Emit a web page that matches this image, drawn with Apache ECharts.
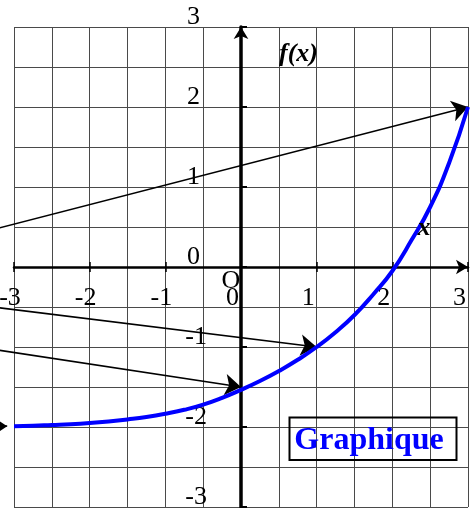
<!DOCTYPE html>
<html>
<head>
<meta charset="utf-8">
<script src="https://cdn.jsdelivr.net/npm/echarts/dist/echarts.min.js"></script>
<style>
html,body{margin:0;padding:0;background:#fff;}
#main{width:472px;height:508px;}
</style>
</head>
<body>
<div id="main"></div>
<script>
// courbe de f
const xVals = [-3, -2.75, -2.5, -2.25, -2, -1.75, -1.5, -1.25, -1, -0.75, -0.5, -0.25, 0,
               0.25, 0.5, 0.75, 1, 1.25, 1.5, 1.75, 2, 2.25, 2.5, 2.75, 3];
const fVals = [-1.99, -1.985, -1.975, -1.965, -1.95, -1.93, -1.905, -1.875, -1.835, -1.785, -1.72, -1.635, -1.535,
               -1.425, -1.3, -1.16, -1.0, -0.815, -0.6, -0.34, -0.05, 0.33, 0.75, 1.3, 2.0];
// fleches : depart (hors cadre) -> arrivee
const arrowFrom = [[-3.6, 0.39], [-3.6, -0.463], [-3.6, -0.982]];
const arrowTo = [[3, 2], [1, -1], [0, -1.5]];
// petite fleche au bord gauche
const smallFrom = [-3.6, -1.99];
const smallTo = [-3.09, -1.99];
const axisMin = -3, axisMax = 3;

const font = 'Liberation Serif';
const gridColor = '#4a4a4a';

// taille du cadre
const W = 472, H = 508;
const gl = 14, gr = 4, gt = 27, gb = 1;
// decalage pour amener les axes sur le zero
const xOff = -(H - gt - gb) / 2;
const yOff = -(W - gl - gr) / 2;

var myChart = echarts.init(document.getElementById('main'));

function labelFmt(v){
    if (v < 0) return '{n|' + v + '}';
    return '{p|' + v + '}';
}

var option = {
    animation: false,
    grid: { left: gl, right: gr, top: gt, bottom: gb, outerBoundsMode: 'none' },
    xAxis: [
        {
            type: 'value', position: 'bottom', offset: xOff, min: axisMin, max: axisMax, interval: 1,
            axisLine: {
                onZero: false, symbol: ['none', 'arrow'], symbolSize: [11, 12],
                lineStyle: { color: '#000', width: 2.5 }
            },
            axisTick: { show: true, length: 5, lineStyle: { color: '#000', width: 1.5 } },
            axisLabel: {
                show: true, margin: 18, showMinLabel: true, showMaxLabel: true,
                fontFamily: font, fontSize: 26, color: '#000',
                formatter: labelFmt,
                rich: {
                    n: { fontFamily: font, fontSize: 26, color: '#000', padding: [0, 8, 0, 0] },
                    p: { fontFamily: font, fontSize: 26, color: '#000', padding: [0, 17, 0, 0] }
                }
            },
            splitLine: { show: true, lineStyle: { color: gridColor, width: 1 } },
            minorTick: { show: false, splitNumber: 2 },
            minorSplitLine: { show: true, lineStyle: { color: gridColor, width: 1 } }
        },
        {
            type: 'value', position: 'top', offset: xOff, min: axisMin, max: axisMax, interval: 1,
            axisLine: { show: false, onZero: false },
            axisTick: { show: true, length: 5, lineStyle: { color: '#000', width: 1.5 } },
            axisLabel: { show: false },
            splitLine: { show: false }
        }
    ],
    yAxis: {
        type: 'value', position: 'left', offset: yOff, min: axisMin, max: axisMax, interval: 1,
        axisLine: {
            onZero: false, symbol: ['none', 'arrow'], symbolSize: [11, 12],
            lineStyle: { color: '#000', width: 3.5 }
        },
        axisTick: { show: true, inside: true, length: 6, lineStyle: { color: '#000', width: 2 } },
        axisLabel: {
            show: true, margin: 34, showMinLabel: true, showMaxLabel: true,
            verticalAlign: 'bottom', lineHeight: 20,
            fontFamily: font, fontSize: 26, color: '#000',
            formatter: labelFmt,
            rich: {
                n: { fontFamily: font, fontSize: 26, lineHeight: 20, color: '#000' },
                p: { fontFamily: font, fontSize: 26, lineHeight: 20, color: '#000', padding: [0, 7, 0, 0] }
            }
        },
        splitLine: { show: true, lineStyle: { color: gridColor, width: 1 } },
        minorTick: { show: false, splitNumber: 2 },
        minorSplitLine: { show: true, lineStyle: { color: gridColor, width: 1 } }
    },
    series: [
        {
            type: 'lines', coordinateSystem: 'cartesian2d', clip: false, silent: true,
            symbol: ['none', 'arrow'], symbolSize: [12, 16],
            lineStyle: { color: '#000', width: 1.6, opacity: 1, curveness: 0 },
            data: arrowFrom.map((p, i) => ({ coords: [p, arrowTo[i]] }))
        },
        {
            type: 'lines', coordinateSystem: 'cartesian2d', clip: false, silent: true,
            symbol: ['none', 'arrow'], symbolSize: [9, 12],
            lineStyle: { color: '#000', width: 1.6, opacity: 1, curveness: 0 },
            data: [{ coords: [smallFrom, smallTo] }]
        },
        {
            type: 'line', clip: false, smooth: true, showSymbol: false, silent: true,
            lineStyle: { color: '#0000ff', width: 4 },
            data: xVals.map((x, i) => [x, fVals[i]]),
            z: 5
        }
    ],
    graphic: [
        { type: 'rect', z: 100, shape: { x: 289.5, y: 417.5, width: 167, height: 42.5 },
          style: { fill: 'transparent', stroke: '#000', lineWidth: 2 } },
        { type: 'text', z: 100, x: 369, y: 441,
          style: { text: 'Graphique', font: 'bold 32px "Liberation Serif"', fill: '#0000ff', align: 'center', verticalAlign: 'middle' } },
        { type: 'text', z: 100, x: 298.5, y: 54,
          style: { text: 'f(x)', font: 'italic bold 26px "Liberation Serif"', fill: '#000', align: 'center', verticalAlign: 'middle' } },
        { type: 'text', z: 100, x: 424, y: 228,
          style: { text: 'x', font: 'italic bold 26px "Liberation Serif"', fill: '#000', align: 'center', verticalAlign: 'middle' } },
        { type: 'text', z: 100, x: 231, y: 281,
          style: { text: 'O', font: '26px "Liberation Serif"', fill: '#000', align: 'center', verticalAlign: 'middle' } }
    ]
};
myChart.setOption(option);
</script>
</body>
</html>
